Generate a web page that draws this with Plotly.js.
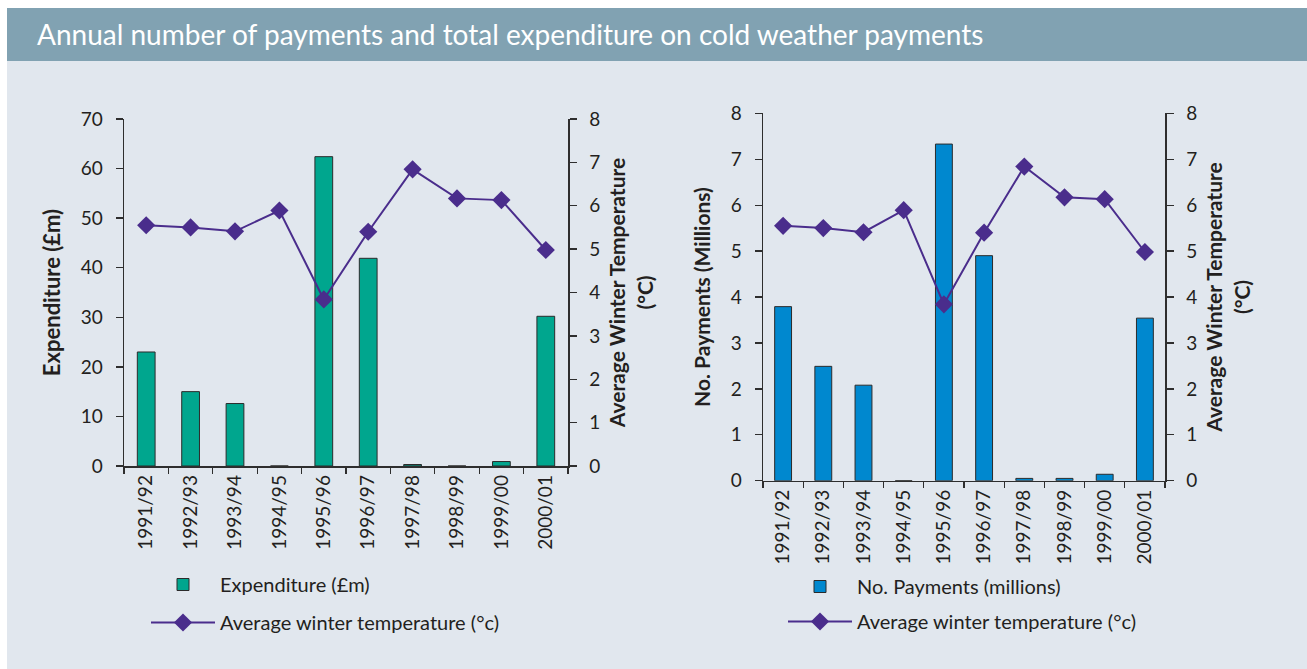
<!DOCTYPE html>
<html><head><meta charset="utf-8">
<script src="https://cdn.plot.ly/plotly-3.0.1.min.js"></script>
<style>html,body{margin:0;padding:0;background:#fff}#chart{width:1307px;height:669px}</style>
</head><body><div id="chart"></div><script>
const years = ['1991/92','1992/93','1993/94','1994/95','1995/96','1996/97','1997/98','1998/99','1999/00','2000/01'];
const expenditure = [23.0, 15.0, 12.6, 0, 62.4, 41.9, 0.3, 0, 0.9, 30.2];
const payments = [3.79, 2.49, 2.08, 0, 7.33, 4.90, 0.05, 0.05, 0.14, 3.54];
const temperature = [5.55, 5.50, 5.41, 5.89, 3.84, 5.40, 6.84, 6.17, 6.13, 4.98];

const W = 1307, H = 669;
const px = v => v / W, py = v => 1 - v / H;
const FONT = 'Lato, "Open Sans", sans-serif';
const INK = '#231f20', AX = '#2e2e2e';
const TEAL = '#00a68e', BLUE = '#0088cf', PURPLE = '#4a2d8c';
const boundaries = years.map((_, i) => i - 0.5).concat([years.length - 0.5]);

const lineTrace = (xa, ya, leg) => ({
  type: 'scatter', mode: 'lines+markers', x: years, y: temperature,
  xaxis: xa, yaxis: ya, legend: leg, legendgroup: 'temp' + leg,
  name: 'Average winter temperature (°c)',
  line: {color: PURPLE, width: 2},
  marker: {symbol: 'diamond', size: 14, color: PURPLE},
  hoverinfo: 'x+y'
});

const data = [
  {type: 'bar', x: years, y: expenditure, xaxis: 'x', yaxis: 'y', legend: 'legend', legendgroup: 'exp',
   name: 'Expenditure (£m)', width: 0.4,
   marker: {color: TEAL, line: {color: '#2b2b2b', width: 1}}},
  lineTrace('x', 'y2', 'legend'),
  {type: 'bar', x: years, y: payments, xaxis: 'x2', yaxis: 'y3', legend: 'legend2', legendgroup: 'pay',
   name: 'No. Payments (millions)', width: 0.42,
   marker: {color: BLUE, line: {color: '#2b2b2b', width: 1}}},
  lineTrace('x2', 'y4', 'legend2')
];

const tickfont = {family: FONT, size: 19, color: INK};
const titlefont = {family: FONT, size: 21, color: INK};
const baseY = (extra) => Object.assign({
  showgrid: false, zeroline: false, showline: true, linecolor: AX, linewidth: 1.5,
  ticks: 'outside', ticklen: 7, tickcolor: AX, tickwidth: 1.3, tickfont: tickfont,
  ticklabelstandoff: 9, fixedrange: true
}, extra);
const baseX = (extra) => Object.assign({
  type: 'category', range: [-0.5, years.length - 0.5], tickson: 'boundaries',
  showgrid: false, zeroline: false, showline: true, linecolor: AX, linewidth: 1.5,
  ticks: 'outside', ticklen: 6, tickcolor: AX, tickwidth: 1.3, tickangle: -90, tickfont: tickfont, fixedrange: true
}, extra);
const inY = (extra) => Object.assign({
  showgrid: false, zeroline: false, showline: false, showticklabels: false,
  ticks: 'inside', ticklen: 7, tickcolor: AX, tickwidth: 1.3, fixedrange: true
}, extra);
const inX = (extra) => Object.assign({
  type: 'linear', range: [-0.5, years.length - 0.5], tickmode: 'array', tickvals: boundaries,
  showgrid: false, zeroline: false, showline: false, showticklabels: false,
  ticks: 'inside', ticklen: 6, tickcolor: AX, tickwidth: 1.3, fixedrange: true
}, extra);

const tempTitle = {text: '<b>Average Winter Temperature<br>(°C)</b>', font: titlefont, standoff: 11};

const layout = {
  width: W, height: H,
  margin: {l: 0, r: 0, t: 0, b: 0},
  paper_bgcolor: '#ffffff', plot_bgcolor: 'rgba(0,0,0,0)',
  font: {family: FONT, color: INK},
  barmode: 'overlay',
  title: {text: 'Annual number of payments and total expenditure on cold weather payments',
    xref: 'paper', yref: 'paper', x: px(37), xanchor: 'left', y: py(35), yanchor: 'middle',
    font: {family: FONT, size: 28, color: '#ffffff'}},
  shapes: [
    {type: 'rect', xref: 'paper', yref: 'paper', x0: px(7), x1: 1, y0: 0, y1: py(61),
     fillcolor: '#e1e7ee', line: {width: 0}, layer: 'below'},
    {type: 'rect', xref: 'paper', yref: 'paper', x0: px(7), x1: 1, y0: py(61), y1: py(8),
     fillcolor: '#81a2b2', line: {width: 0}, layer: 'below'}
  ],
  xaxis: baseX({domain: [px(124), px(568)], anchor: 'y'}),
  yaxis: baseY({domain: [py(466), py(119)], anchor: 'x', range: [0, 70], dtick: 10,
    title: {text: '<b>Expenditure (£m)</b>', font: {family: FONT, size: 22, color: INK}, standoff: 14}}),
  yaxis2: baseY({overlaying: 'y', side: 'right', anchor: 'x', range: [0, 8], dtick: 1, title: tempTitle}),
  xaxis2: baseX({domain: [px(763), px(1165)], anchor: 'y3'}),
  yaxis3: baseY({domain: [py(480.7), py(113.3)], anchor: 'x2', range: [0, 8], dtick: 1,
    title: {text: '<b>No. Payments (Millions)</b>', font: titlefont, standoff: 14}}),
  yaxis4: baseY({overlaying: 'y3', side: 'right', anchor: 'x2', range: [0, 8], dtick: 1, title: tempTitle}),
  // inner halves of the crossing tick marks
  yaxis5: inY({overlaying: 'y', side: 'left', anchor: 'x', range: [0, 70], dtick: 10}),
  yaxis6: inY({overlaying: 'y', side: 'right', anchor: 'x', range: [0, 8], dtick: 1}),
  xaxis3: inX({overlaying: 'x', anchor: 'y'}),
  yaxis7: inY({overlaying: 'y3', side: 'left', anchor: 'x2', range: [0, 8], dtick: 1}),
  yaxis8: inY({overlaying: 'y3', side: 'right', anchor: 'x2', range: [0, 8], dtick: 1}),
  xaxis4: inX({overlaying: 'x2', anchor: 'y3'}),
  legend: {x: px(146), y: py(565), xanchor: 'left', yanchor: 'top', bgcolor: 'rgba(0,0,0,0)',
    font: {family: FONT, size: 20, color: INK}, itemwidth: 64, tracegroupgap: 9, traceorder: 'grouped'},
  legend2: {x: px(783), y: py(567), xanchor: 'left', yanchor: 'top', bgcolor: 'rgba(0,0,0,0)',
    font: {family: FONT, size: 20, color: INK}, itemwidth: 64, tracegroupgap: 6, traceorder: 'grouped'},
  showlegend: true
};

Plotly.newPlot('chart', data, layout, {displayModeBar: false, staticPlot: true});
</script></body></html>
